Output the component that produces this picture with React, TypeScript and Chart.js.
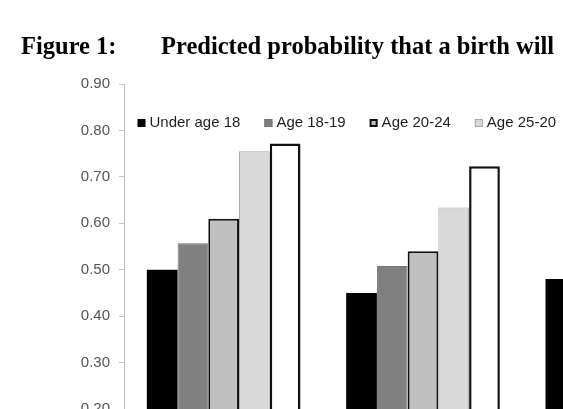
import { useEffect, useRef } from "react";
import { Chart, registerables } from "chart.js";

Chart.register(...registerables);

// Birth groups along the x axis (axis labels sit below the visible frame)
const groups = ["Group 1", "Group 2", "Group 3"];

// Predicted probability by mother's age at birth
const ageLabels = ["Under age 18", "Age 18-19", "Age 20-24", "Age 25-20", "Age 30+"];
const under18 = [0.5, 0.45, 0.48];
const age18to19 = [0.557, 0.508, null];
const age20to24 = [0.61, 0.54, null];
const age25to29 = [0.755, 0.634, null];
const age30plus = [0.772, 0.723, null];

// Y axis range and step
const yMin = 0;
const yMax = 0.9;
const yStep = 0.1;

const titleLead = "Figure 1:";
const titleText = "Predicted probability that a birth will";

const SANS = "'Liberation Sans', Arial, sans-serif";
const SERIF = "'Liberation Serif', 'Times New Roman', serif";

const seriesStyles = [
  { backgroundColor: "#000000", borderColor: "#000000", borderWidth: 0 },
  { backgroundColor: "#808080", borderColor: "#747474", borderWidth: 1 },
  { backgroundColor: "#c0c0c0", borderColor: "#111111", borderWidth: 2 },
  { backgroundColor: "#d9d9d9", borderColor: "#a6a6a6", borderWidth: 1 },
  { backgroundColor: "#ffffff", borderColor: "#111111", borderWidth: 2.5 },
];

const seriesValues = [under18, age18to19, age20to24, age25to29, age30plus];

// Heading drawn above the plot
const headingPlugin = {
  id: "heading",
  afterDraw(chart: any) {
    const { ctx } = chart;
    ctx.save();
    ctx.font = `bold 24.5px ${SERIF}`;
    ctx.fillStyle = "#000000";
    ctx.textBaseline = "alphabetic";
    ctx.textAlign = "left";
    ctx.fillText(titleLead, 21, 54);
    ctx.fillText(titleText, 161, 54);
    ctx.restore();
  },
};

// Single-row legend placed inside the top of the plot area
const insideLegendPlugin = {
  id: "insideLegend",
  afterDraw(chart: any) {
    const { ctx, chartArea } = chart;
    ctx.save();
    ctx.font = `15px ${SANS}`;
    ctx.textBaseline = "alphabetic";
    ctx.textAlign = "left";
    const baseline = chartArea.top + 42.5;
    let x = chartArea.left + 13.5;
    chart.data.datasets.forEach((ds: any) => {
      const top = baseline - 7.5;
      ctx.fillStyle = ds.backgroundColor;
      ctx.fillRect(x, top, 8, 8);
      if (ds.borderWidth > 0) {
        const lw = ds.borderWidth >= 2 ? 2 : 1;
        ctx.lineWidth = lw;
        ctx.strokeStyle = ds.borderColor;
        ctx.strokeRect(x + lw / 2, top + lw / 2, 8 - lw, 8 - lw);
      }
      ctx.fillStyle = "#1f1f1f";
      ctx.fillText(ds.label, x + 12, baseline);
      x += 12 + ctx.measureText(ds.label).width + 24;
    });
    ctx.restore();
  },
};

export default function App() {
  const canvasRef = useRef<HTMLCanvasElement | null>(null);

  useEffect(() => {
    const canvas = canvasRef.current;
    if (!canvas) return;
    const chart = new Chart(canvas, {
      type: "bar",
      data: {
        labels: groups,
        datasets: ageLabels.map((label, i) => ({
          label,
          data: seriesValues[i],
          ...seriesStyles[i],
          borderSkipped: "start",
          barPercentage: 1,
          categoryPercentage: 0.771,
        })),
      },
      options: {
        responsive: false,
        animation: false,
        devicePixelRatio: 1,
        layout: { padding: { top: 84, left: 0, right: 18, bottom: 16 } },
        plugins: {
          legend: { display: false },
          title: { display: false },
          tooltip: { enabled: false },
        },
        scales: {
          x: { display: false },
          y: {
            min: yMin,
            max: yMax,
            afterFit(scale: any) {
              scale.width = 124;
            },
            ticks: {
              stepSize: yStep,
              padding: 9,
              color: "#555555",
              font: { family: SANS, size: 15 },
              callback: (v: any) => Number(v).toFixed(2),
            },
            grid: {
              drawOnChartArea: false,
              drawTicks: true,
              tickLength: 5,
              color: "#c4c4c4",
            },
            border: { display: true, color: "#c4c4c4", width: 1 },
          },
        },
      },
      plugins: [headingPlugin, insideLegendPlugin],
    });
    return () => chart.destroy();
  }, []);

  return (
    <div
      style={{
        position: "fixed",
        left: 0,
        top: 0,
        width: 563,
        height: 409,
        overflow: "hidden",
        background: "#ffffff",
      }}
    >
      <canvas
        ref={canvasRef}
        width={740}
        height={520}
        style={{ position: "absolute", left: 0, top: 0, width: 740, height: 520 }}
      />
    </div>
  );
}
